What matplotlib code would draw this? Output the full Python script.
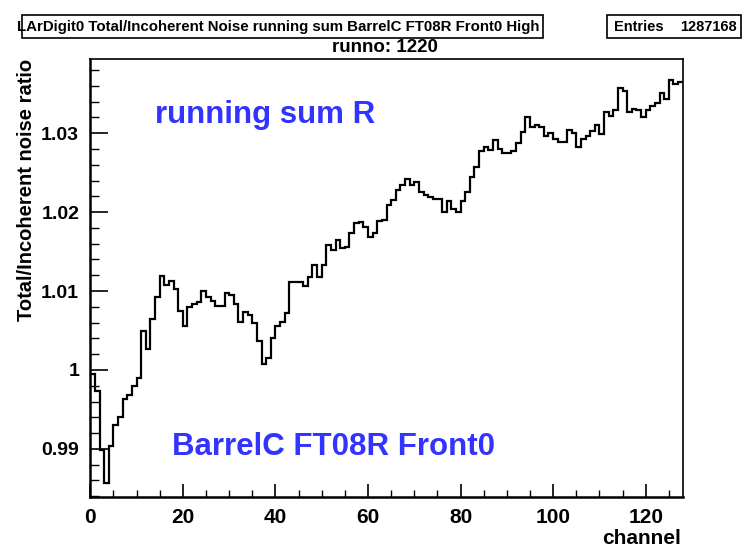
import numpy as np
import matplotlib
matplotlib.use("Agg")
import matplotlib.pyplot as plt
from matplotlib.patches import Rectangle

channels = np.arange(129)  # bin edges 0..128
ratio = [
    0.9995, 0.9973, 0.9899, 0.9857, 0.9903, 0.9930, 0.9940, 0.9963, 0.9968, 0.9980,
    0.9990, 1.0049, 1.0026, 1.0064, 1.0092, 1.0119, 1.0108, 1.0113, 1.0102, 1.0075,
    1.0056, 1.0080, 1.0083, 1.0086, 1.0100, 1.0092, 1.0087, 1.0081, 1.0081, 1.0097,
    1.0095, 1.0083, 1.0061, 1.0073, 1.0070, 1.0059, 1.0037, 1.0007, 1.0015, 1.0041,
    1.0056, 1.0061, 1.0072, 1.0111, 1.0111, 1.0111, 1.0106, 1.0118, 1.0133, 1.0118,
    1.0133, 1.0158, 1.0152, 1.0165, 1.0154, 1.0156, 1.0174, 1.0186, 1.0188, 1.0181,
    1.0168, 1.0174, 1.0189, 1.0190, 1.0209, 1.0215, 1.0228, 1.0234, 1.0242, 1.0234,
    1.0238, 1.0225, 1.0222, 1.0219, 1.0217, 1.0217, 1.0200, 1.0214, 1.0204, 1.0200,
    1.0214, 1.0225, 1.0244, 1.0257, 1.0277, 1.0283, 1.0279, 1.0291, 1.0280, 1.0275,
    1.0275, 1.0278, 1.0288, 1.0301, 1.0321, 1.0308, 1.0310, 1.0308, 1.0296, 1.0300,
    1.0292, 1.0289, 1.0289, 1.0304, 1.0300, 1.0282, 1.0293, 1.0297, 1.0303, 1.0311,
    1.0299, 1.0327, 1.0322, 1.0329, 1.0357, 1.0354, 1.0327, 1.0331, 1.0329, 1.0321,
    1.0330, 1.0334, 1.0338, 1.0351, 1.0343, 1.0367, 1.0362, 1.0365,
]
yticks = [0.99, 1.0, 1.01, 1.02, 1.03]
ytick_labels = ["0.99", "1", "1.01", "1.02", "1.03"]
xticks = [0, 20, 40, 60, 80, 100, 120]

title = "LArDigit0 Total/Incoherent Noise running sum BarrelC FT08R Front0 High"
subtitle = "runno: 1220"
entries = "1287168"

plt.rcParams['font.family'] = ['Liberation Sans', 'DejaVu Sans']
plt.rcParams['font.weight'] = 'bold'

W, H = 749, 547
fig = plt.figure(figsize=(W / 100, H / 100), dpi=100)

def fx(px):
    return px / W

def fy(py):
    return 1 - py / H

x0, x1, ytop, ybot = 90.3, 682.7, 59, 497
ax = fig.add_axes([fx(x0), fy(ybot), fx(x1) - fx(x0), fy(ytop) - fy(ybot)])

ax.stairs(ratio, channels, color='black', linewidth=1.6, baseline=None)
ax.set_xlim(0, 128)
ax.set_ylim(0.9839, 1.0394)

ax.set_xticks(xticks)
ax.set_xticks(np.arange(0, 129, 5), minor=True)
ax.set_yticks(yticks)
ax.set_yticklabels(ytick_labels)
ax.set_yticks(np.arange(0.984, 1.0395, 0.002), minor=True)

ax.tick_params(axis='y', which='major', direction='in', length=13, width=1.2,
               labelsize=14, pad=8)
ax.tick_params(axis='y', which='minor', direction='in', length=6.5, width=1.0)
ax.tick_params(axis='x', which='major', direction='in', length=9.5, width=1.2,
               labelsize=15, pad=8)
ax.tick_params(axis='x', which='minor', direction='in', length=4.7, width=1.0)
for lab in ax.get_xticklabels() + ax.get_yticklabels():
    lab.set_fontweight('bold')

for s in ax.spines.values():
    s.set_color('black')
    s.set_linewidth(1.2)
ax.spines['left'].set_linewidth(1.8)
ax.spines['bottom'].set_linewidth(1.8)

fig.text(fx(27), fy(59), "Total/Incoherent noise ratio", rotation=90,
         ha='center', va='top', fontsize=14.5, fontweight='bold')
fig.text(fx(681), fy(538), "channel", ha='right', va='center',
         fontsize=15, fontweight='bold')

# title box
fig.patches.append(Rectangle((fx(22), fy(38)), fx(543) - fx(22), fy(15) - fy(38),
                             transform=fig.transFigure, fill=False,
                             edgecolor='black', linewidth=1.2))
fig.text(fx(17), fy(27), title, ha='left', va='center', fontsize=10.8,
         fontweight='bold')
# stats box
fig.patches.append(Rectangle((fx(607), fy(38)), fx(741) - fx(607), fy(15) - fy(38),
                             transform=fig.transFigure, fill=False,
                             edgecolor='black', linewidth=1.2))
fig.text(fx(614), fy(27), "Entries", ha='left', va='center', fontsize=10.5,
         fontweight='bold')
fig.text(fx(737), fy(27), entries, ha='right', va='center', fontsize=10.5,
         fontweight='bold')

fig.text(fx(385), fy(48), subtitle, ha='center', va='center', fontsize=13.5,
         fontweight='bold')

blue = '#3333ff'
fig.text(fx(155), fy(115), "running sum R", ha='left', va='center',
         fontsize=22.5, fontweight='bold', color=blue)
fig.text(fx(172), fy(447), "BarrelC FT08R Front0", ha='left', va='center',
         fontsize=22.5, fontweight='bold', color=blue)

fig.savefig("out.png", dpi=100)
